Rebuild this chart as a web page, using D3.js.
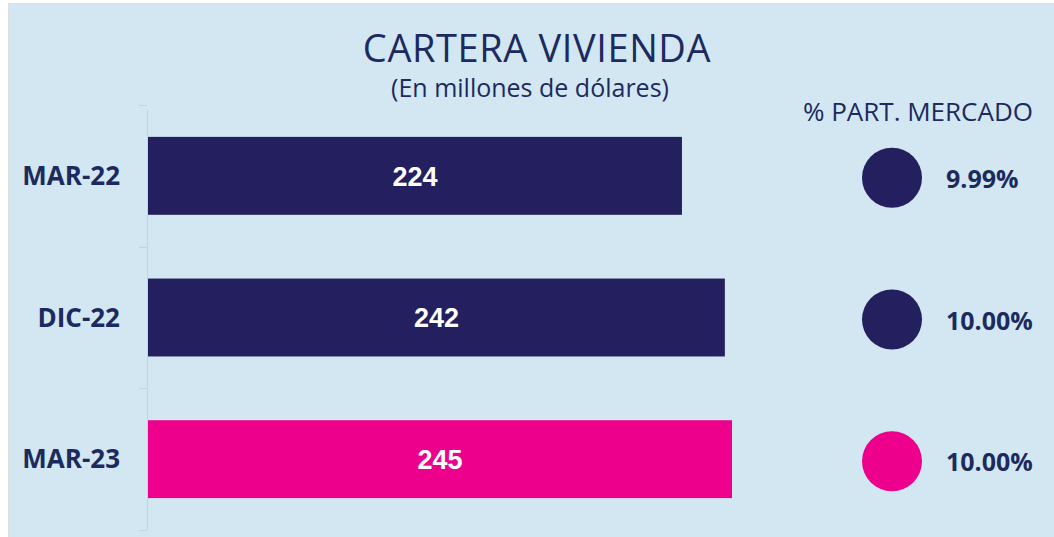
<!DOCTYPE html>
<html>
<head>
<meta charset="utf-8">
<script src="https://cdn.jsdelivr.net/npm/d3@7"></script>
<style>
  body { margin: 0; background: #fff; }
  svg { display: block; }
</style>
</head>
<body>
<svg id="chart"></svg>
<script>
// Chart data
const categories = ["MAR-22", "DIC-22", "MAR-23"];
const values = [224, 242, 245];
const shares = ["9.99%", "10.00%", "10.00%"];
const barColors = ["#241f5e", "#241f5e", "#ec008c"];

const width = 1054;
const height = 537;

const navy = "#1c2a5e";
const font = "'Open Sans', sans-serif";

const svg = d3
  .select("#chart")
  .attr("width", width)
  .attr("height", height)
  .style("font-family", font);

// light blue panel
svg
  .append("rect")
  .attr("x", 8.5)
  .attr("y", 3.5)
  .attr("width", width)
  .attr("height", height)
  .attr("fill", "#d3e7f2")
  .attr("stroke", "#dedede");

// Scales
const x = d3.scaleLinear().domain([0, 245]).range([148, 732]);

const y = d3
  .scaleBand()
  .domain(categories)
  .range([105, 530])
  .paddingInner(0.45)
  .paddingOuter(0.225);

// Titles
svg
  .append("text")
  .attr("x", 537)
  .attr("y", 62)
  .attr("text-anchor", "middle")
  .attr("font-size", 38)
  .attr("letter-spacing", 0.6)
  .attr("fill", navy)
  .text("CARTERA VIVIENDA");

svg
  .append("text")
  .attr("x", 530)
  .attr("y", 97)
  .attr("text-anchor", "middle")
  .attr("font-size", 25)
  .attr("fill", navy)
  .text("(En millones de dólares)");

svg
  .append("text")
  .attr("x", 918)
  .attr("y", 121)
  .attr("text-anchor", "middle")
  .attr("font-size", 26)
  .attr("fill", navy)
  .text("% PART. MERCADO");

// Category axis (faint line with ticks at band edges)
const step = y.step();
const edges = d3.range(categories.length + 1).map((i) => 105 + i * step);
const axis = svg.append("g").attr("class", "axis");
axis
  .append("line")
  .attr("x1", 147.5)
  .attr("x2", 147.5)
  .attr("y1", 110)
  .attr("y2", 530)
  .attr("stroke", "#c9d2d7");
axis
  .selectAll("line.tick")
  .data(edges)
  .enter()
  .append("line")
  .attr("class", "tick")
  .attr("x1", 139)
  .attr("x2", 147)
  .attr("y1", (d) => Math.round(d) + 0.5)
  .attr("y2", (d) => Math.round(d) + 0.5)
  .attr("stroke", "#c9d2d7");

axis
  .selectAll("text.cat")
  .data(categories)
  .enter()
  .append("text")
  .attr("class", "cat")
  .attr("x", 120)
  .attr("y", (d) => y(d) + y.bandwidth() / 2)
  .attr("dy", "0.35em")
  .attr("text-anchor", "end")
  .attr("font-size", 26)
  .attr("font-weight", "bold")
  .attr("fill", navy)
  .text((d) => d);

// Bars
const bars = svg.append("g").attr("class", "bars");
bars
  .selectAll("rect")
  .data(values)
  .enter()
  .append("rect")
  .attr("x", x(0))
  .attr("y", (d, i) => y(categories[i]))
  .attr("width", (d) => x(d) - x(0))
  .attr("height", y.bandwidth())
  .attr("fill", (d, i) => barColors[i]);

bars
  .selectAll("text")
  .data(values)
  .enter()
  .append("text")
  .attr("x", (d) => (x(0) + x(d)) / 2)
  .attr("y", (d, i) => y(categories[i]) + y.bandwidth() / 2)
  .attr("dy", "0.36em")
  .attr("text-anchor", "middle")
  .style("font-family", "'Liberation Sans', Arial, sans-serif")
  .attr("font-size", 27)
  .attr("font-weight", "bold")
  .attr("fill", "#fff")
  .text((d) => d);

// Market share dots
const dots = svg.append("g").attr("class", "dots");
dots
  .selectAll("circle")
  .data(shares)
  .enter()
  .append("circle")
  .attr("cx", 892)
  .attr("cy", (d, i) => y(categories[i]) + y.bandwidth() / 2 + 2)
  .attr("r", 30)
  .attr("fill", (d, i) => barColors[i]);

dots
  .selectAll("text")
  .data(shares)
  .enter()
  .append("text")
  .attr("x", 946)
  .attr("y", (d, i) => y(categories[i]) + y.bandwidth() / 2 + 3)
  .attr("dy", "0.36em")
  .attr("font-size", 25)
  .attr("font-weight", "bold")
  .attr("fill", navy)
  .text((d) => d);
</script>
</body>
</html>
